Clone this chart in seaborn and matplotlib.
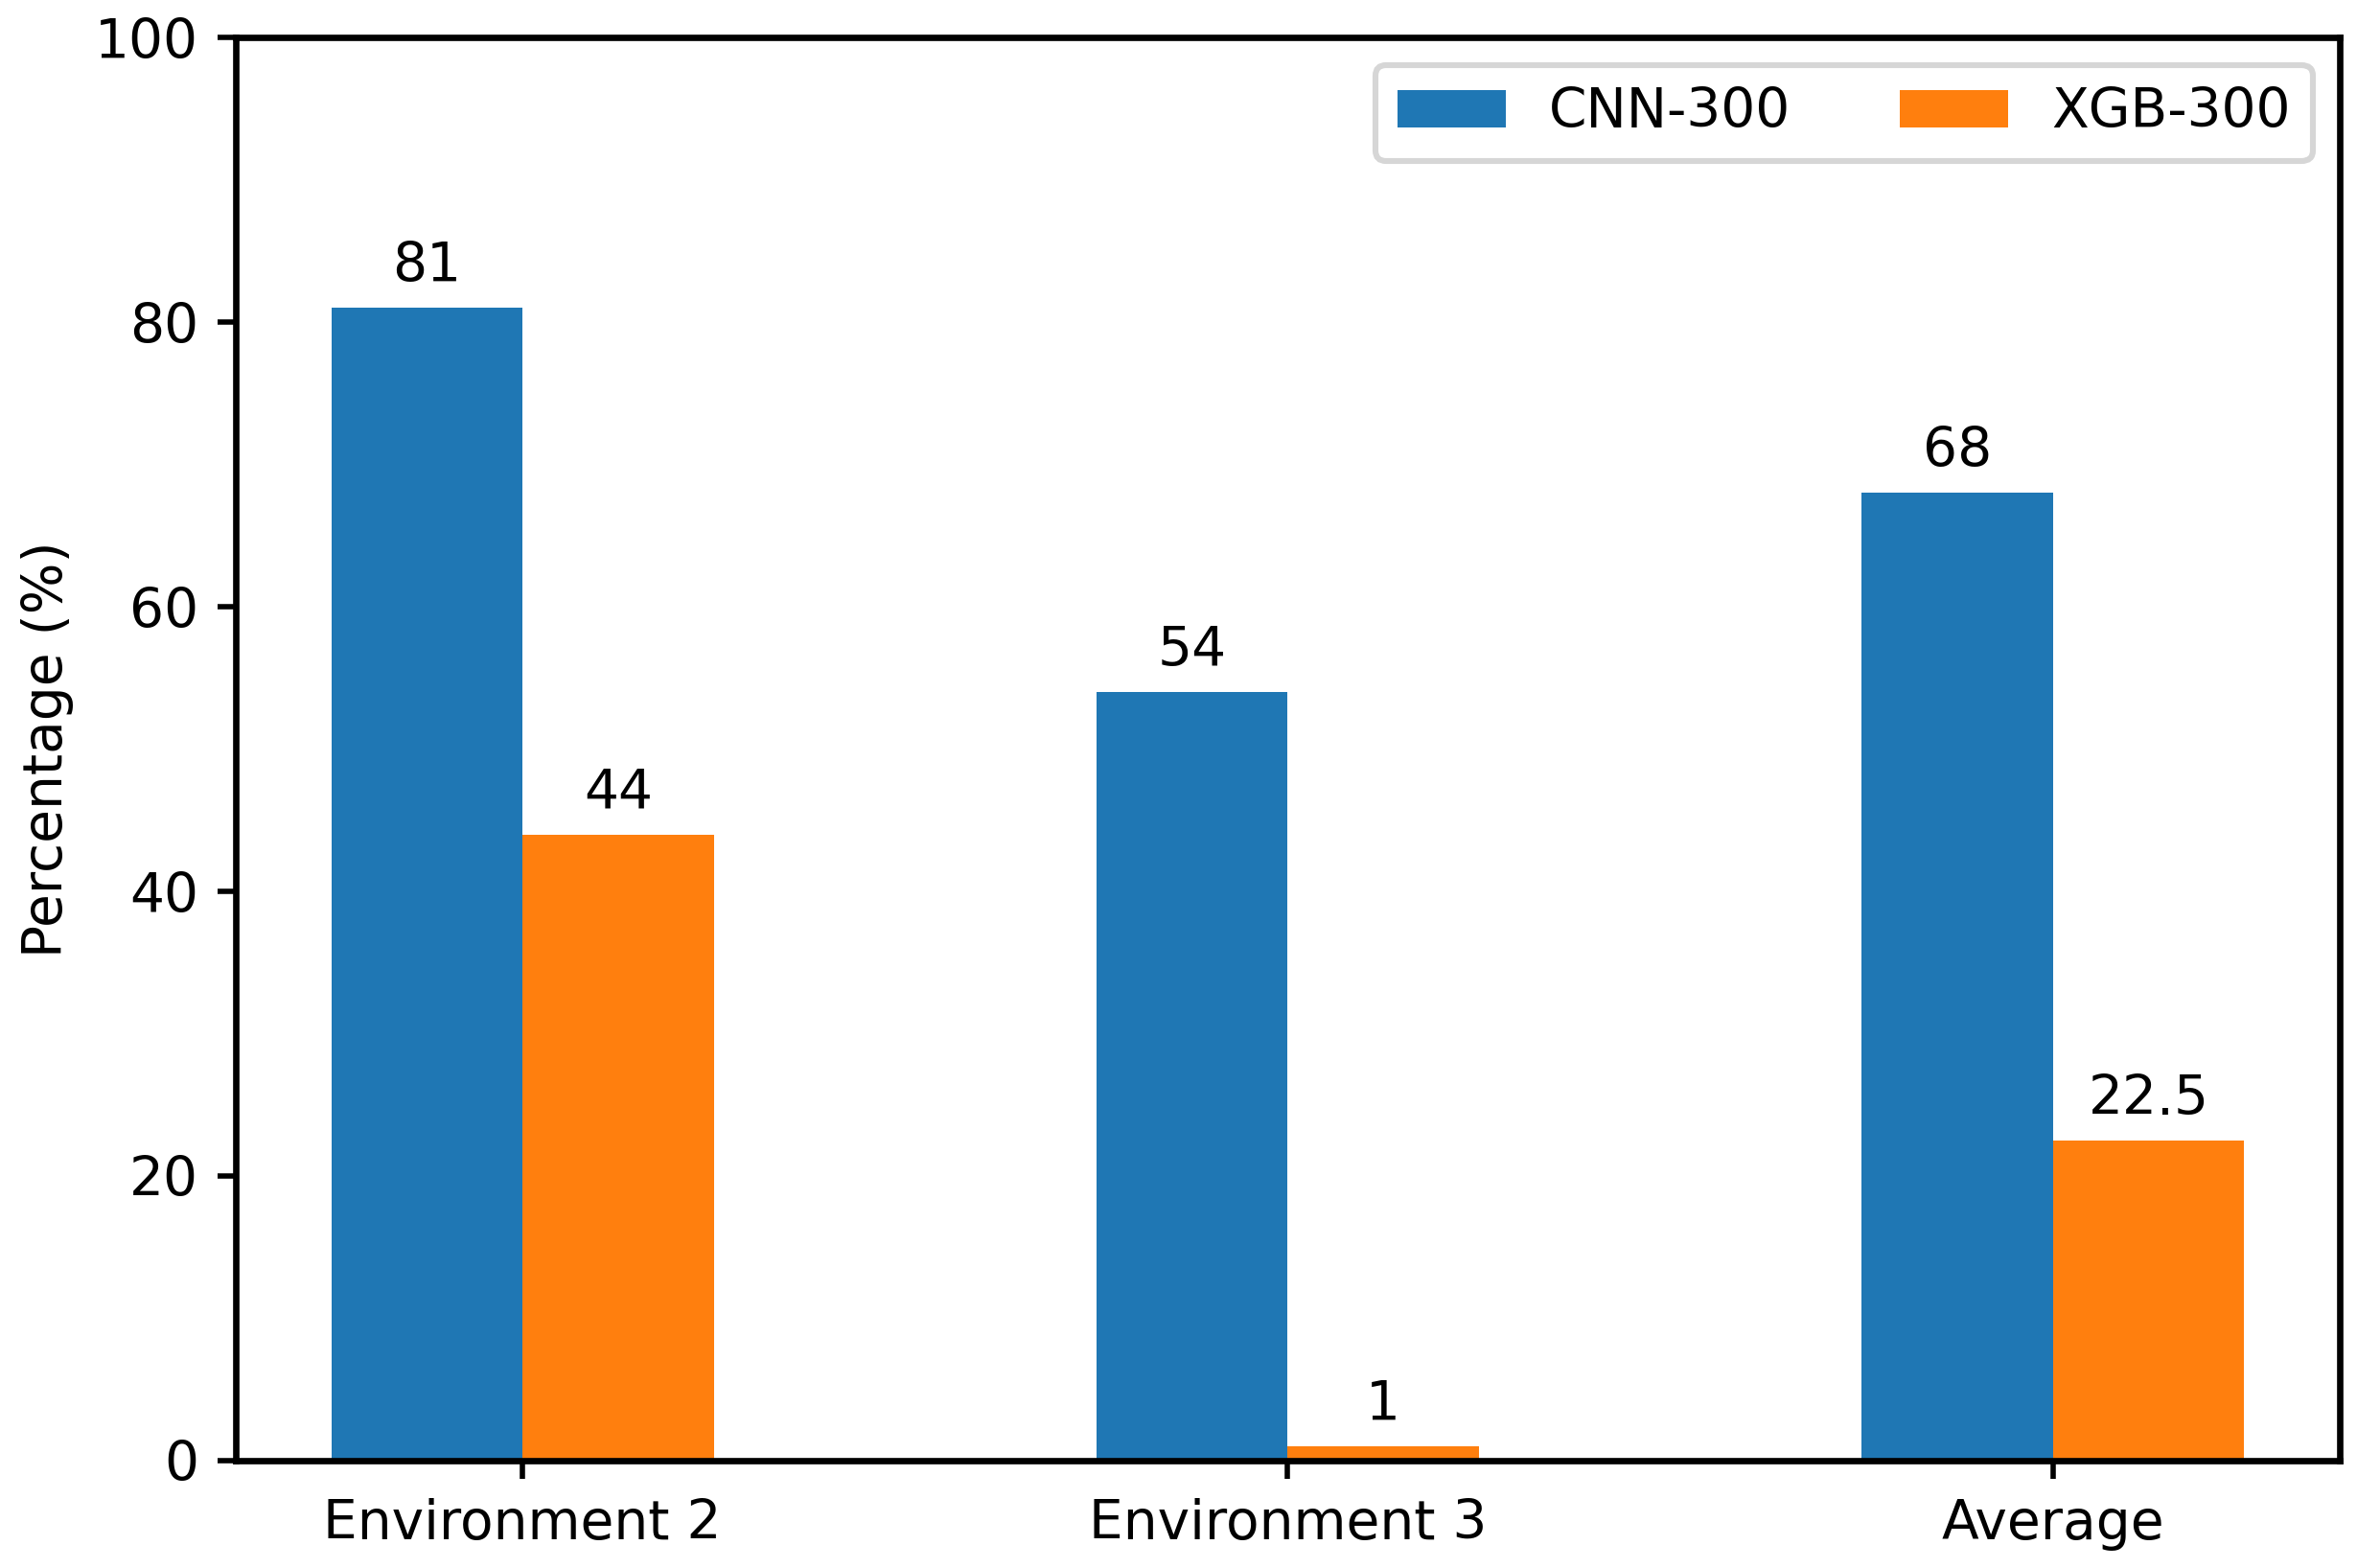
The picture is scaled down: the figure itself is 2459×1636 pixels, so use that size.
import seaborn as sns
import matplotlib.pyplot as plt
import pandas as pd

# 数据
categories = ["Environment 2", "Environment 3", "Average"]
cnn_300 = [81, 54, 68]
xgb_300 = [44, 1, 22.5]
models = ["CNN-300", "XGB-300"]

plt.rcParams['font.family'] = ['DejaVu Sans']
plt.rcParams['font.size'] = 10.2
plt.rcParams['axes.linewidth'] = 1.2
plt.rcParams['xtick.major.width'] = 1.0
plt.rcParams['ytick.major.width'] = 1.0

df = pd.DataFrame({
    "env": categories * 2,
    "value": cnn_300 + xgb_300,
    "model": [models[0]] * len(categories) + [models[1]] * len(categories),
})

fig = plt.figure(figsize=(2459 / 400, 1636 / 400), dpi=400)
ax = fig.add_axes([0.1000, 0.0685, 0.8927, 0.9075])

sns.barplot(data=df, x="env", y="value", hue="model", ax=ax,
            width=0.5, palette=["#1f77b4", "#ff7f0e"], saturation=1,
            errorbar=None, linewidth=0)

# 柱顶数值标注
series = [cnn_300, xgb_300]
for cont, vals in zip(ax.containers, series):
    ax.bar_label(cont, labels=[f"{v:g}" for v in vals], padding=2.7)

ax.set_xlim(-0.375, 2.375)
ax.set_ylim(0, 100)
ax.set_xlabel("")
ax.set_ylabel("Percentage (%)")

handles, labels = ax.get_legend_handles_labels()
leg = ax.legend(handles, labels, loc="upper right", ncol=2)
leg.get_frame().set_linewidth(1.1)

fig.savefig("out.png", dpi=400)
